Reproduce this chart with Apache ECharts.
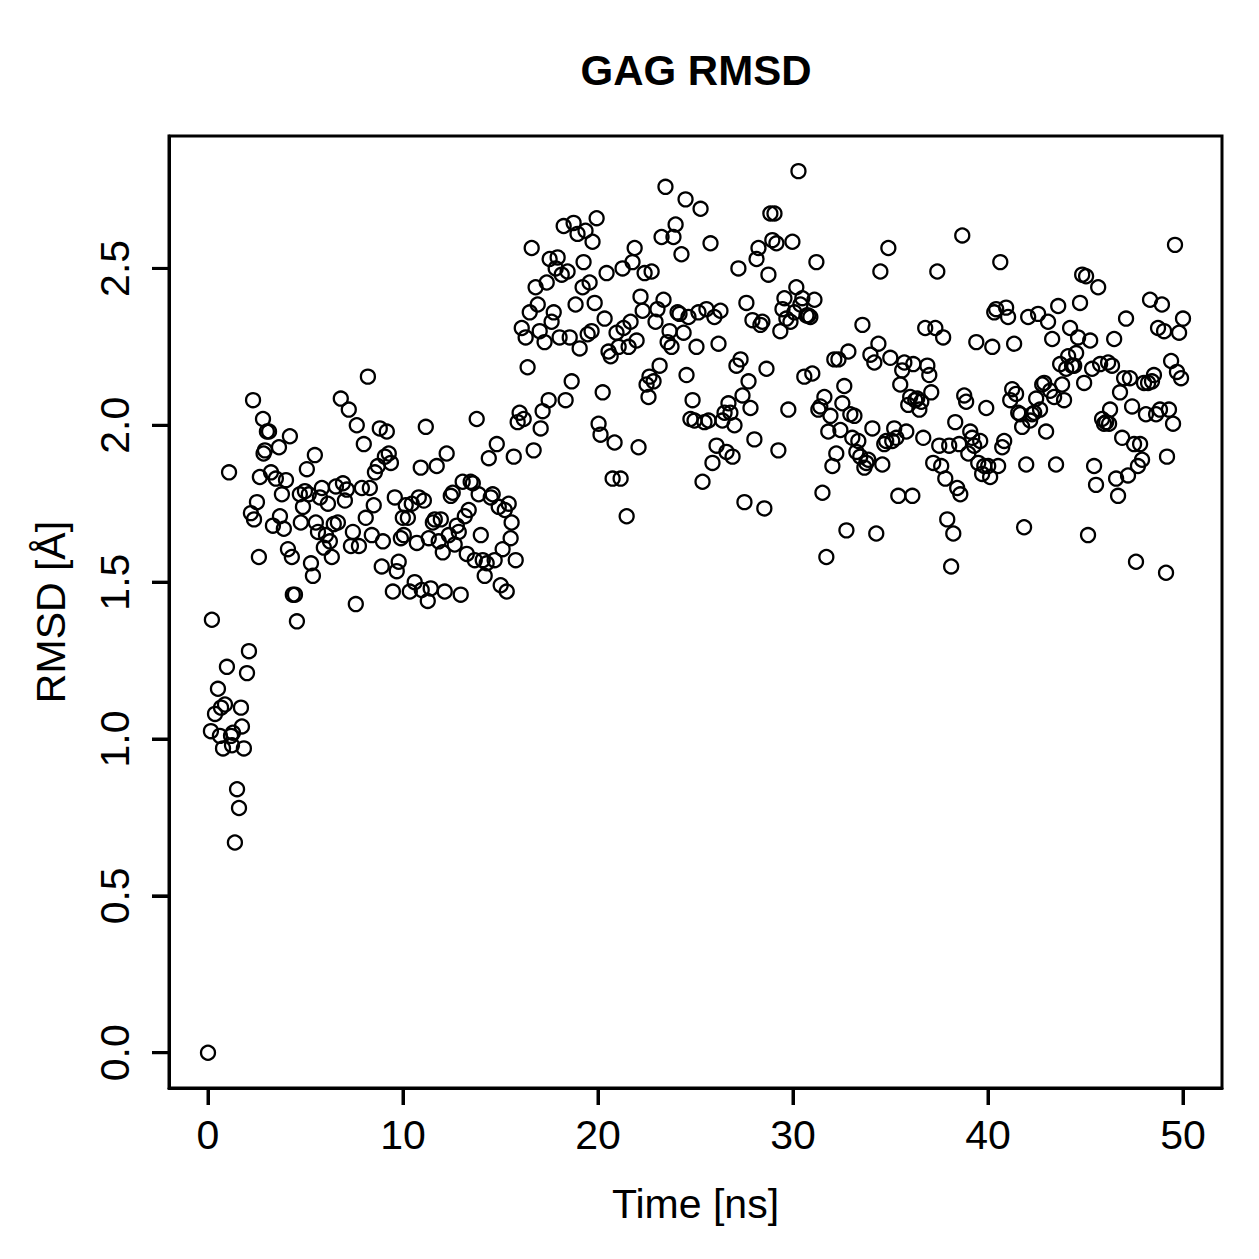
<!DOCTYPE html>
<html>
<head>
<meta charset="utf-8">
<script src="https://cdn.jsdelivr.net/npm/echarts@6/dist/echarts.min.js"></script>
<style>
html, body { margin: 0; padding: 0; background: #fff; }
#chart { width: 1259px; height: 1259px; }
</style>
</head>
<body>
<div id="chart"></div>
<script>
// time of each frame (ns)
var timeNs = [
  0.00, 0.15, 0.20, 0.36, 0.51, 0.61, 0.67, 0.77, 0.87, 0.97, 1.08, 1.18, 1.28, 1.23, 1.49, 1.59, 1.38, 1.69, 1.74, 1.84,
  2.00, 2.10, 2.20, 2.31, 2.36, 2.51, 2.61, 2.82, 2.66, 2.92, 3.02, 3.13, 2.85, 3.23, 3.33, 3.48, 3.64, 3.69, 3.79, 3.89,
  4.00, 4.10, 4.20, 4.30, 4.35, 4.46, 4.56, 4.71, 4.76, 4.87, 4.97, 5.07, 5.17, 5.28, 5.38, 5.48, 5.53, 5.64, 5.74, 5.84,
  5.94, 6.05, 6.15, 6.25, 6.35, 6.45, 6.56, 6.66, 6.81, 6.92, 7.02, 7.12, 7.22, 7.33, 7.43, 7.58, 7.63, 7.74, 7.89, 7.99,
  8.09, 8.20, 8.30, 8.40, 8.50, 8.56, 8.71, 8.81, 8.91, 8.97, 9.07, 9.17, 9.27, 9.38, 9.48, 9.58, 9.68, 9.78, 9.89, 9.99,
  10.04, 10.14, 10.25, 10.35, 10.45, 10.60, 10.71, 10.81, 10.91, 10.96, 11.07, 11.17, 11.27, 11.32, 11.42, 11.53, 11.63, 11.73, 11.83, 11.94,
  12.04, 12.14, 12.24, 12.35, 12.45, 12.55, 12.65, 12.76, 12.86, 12.96, 13.06, 13.17, 13.27, 13.37, 13.47, 13.58, 13.68, 13.78, 13.88, 13.99,
  14.09, 14.19, 14.29, 14.40, 14.50, 14.60, 14.70, 14.81, 14.91, 15.01, 15.11, 15.22, 15.32, 15.42, 15.52, 15.57, 15.68, 15.78, 15.88, 15.98,
  16.09, 16.19, 16.29, 16.39, 16.50, 16.60, 16.70, 16.80, 16.91, 17.01, 17.06, 17.16, 17.26, 17.37, 17.47, 17.52, 17.62, 17.73, 17.83, 17.93,
  18.03, 18.14, 18.24, 18.34, 18.44, 18.55, 18.65, 18.75, 18.85, 18.95, 19.06, 19.21, 19.26, 19.36, 19.47, 19.57, 19.67, 19.72, 19.83, 19.93,
  20.03, 20.13, 20.24, 20.34, 20.44, 20.54, 20.65, 20.75, 20.85, 20.95, 21.06, 21.16, 21.26, 21.31, 21.47, 21.57, 21.67, 21.77, 21.88, 21.98,
  22.08, 22.18, 22.29, 22.39, 22.49, 22.59, 22.64, 22.75, 22.85, 22.95, 23.05, 23.16, 23.26, 23.36, 23.46, 23.57, 23.67, 23.77, 23.87, 23.98,
  24.08, 24.18, 24.28, 24.39, 24.49, 24.54, 24.64, 24.74, 24.85, 24.95, 25.05, 25.15, 25.26, 25.36, 25.46, 25.56, 25.67, 25.77, 25.87, 25.97,
  26.08, 26.18, 26.28, 26.38, 26.49, 26.59, 26.69, 26.79, 26.90, 27.00, 27.10, 27.20, 27.31, 27.41, 27.51, 27.61, 27.72, 27.82, 27.92, 28.02,
  28.13, 28.23, 28.33, 28.43, 28.53, 28.64, 28.74, 28.84, 28.94, 29.05, 29.15, 29.25, 29.35, 29.46, 29.56, 29.66, 29.76, 29.87, 29.97, 30.07,
  30.17, 30.28, 30.38, 30.48, 30.58, 30.69, 30.79, 30.89, 30.99, 31.10, 31.20, 31.30, 31.40, 31.51, 31.61, 31.71, 31.81, 31.92, 32.02, 32.12,
  32.22, 32.33, 32.43, 32.53, 32.63, 32.74, 32.84, 32.94, 33.04, 33.15, 33.25, 33.35, 33.45, 33.56, 33.66, 33.76, 33.86, 33.97, 34.07, 34.17,
  34.27, 34.38, 34.48, 34.58, 34.68, 34.78, 34.89, 34.99, 35.09, 35.19, 35.30, 35.40, 35.50, 35.60, 35.71, 35.81, 35.91, 36.01, 36.12, 36.17,
  36.27, 36.37, 36.48, 36.58, 36.68, 36.78, 36.89, 36.99, 37.09, 37.19, 37.30, 37.40, 37.50, 37.60, 37.70, 37.81, 37.91, 38.01, 38.11, 38.22,
  38.32, 38.42, 38.52, 38.58, 38.68, 38.78, 38.88, 38.99, 39.09, 39.19, 39.29, 39.40, 39.50, 39.60, 39.70, 39.81, 39.91, 40.01, 40.11, 40.22,
  40.32, 40.42, 40.52, 40.63, 40.73, 40.83, 40.93, 41.03, 41.14, 41.24, 41.34, 41.44, 41.55, 41.65, 41.75, 41.85, 41.96, 42.06, 42.16, 42.26,
  42.37, 42.47, 42.57, 42.67, 42.78, 42.88, 42.98, 43.08, 43.19, 43.29, 43.39, 43.49, 43.60, 43.70, 43.80, 43.90, 44.01, 44.11, 44.21, 44.31,
  44.42, 44.52, 44.62, 44.72, 44.83, 44.93, 45.03, 45.13, 45.24, 45.34, 45.44, 45.54, 45.65, 45.75, 45.85, 45.95, 46.06, 46.16, 46.21, 46.26,
  46.36, 46.47, 46.57, 46.67, 46.77, 46.88, 46.98, 47.08, 47.18, 47.28, 47.39, 47.49, 47.59, 47.69, 47.80, 47.90, 48.00, 48.10, 48.21, 48.31,
  48.41, 48.51, 48.62, 48.72, 48.82, 48.92, 49.03, 49.13, 49.18, 49.28, 49.39, 49.49, 49.59, 49.69, 49.80, 49.90, 50.00
];

// RMSD at each frame (angstrom)
var rmsd = [
  0.00, 1.025, 1.38, 1.08, 1.16, 1.01, 1.10, 0.97, 1.11, 1.23, 1.85, 1.01, 1.02, 0.98, 0.84, 0.78, 0.67, 1.10, 1.04, 0.97,
  1.21, 1.28, 1.72, 2.08, 1.70, 1.755, 1.58, 2.02, 1.835, 1.92, 1.98, 1.98, 1.91, 1.85, 1.68, 1.83, 1.93, 1.71, 1.78, 1.67,
  1.825, 1.605, 1.965, 1.58, 1.46, 1.46, 1.375, 1.78, 1.69, 1.74, 1.79, 1.86, 1.78, 1.56, 1.52, 1.905, 1.69, 1.66, 1.77, 1.80,
  1.61, 1.65, 1.75, 1.63, 1.58, 1.685, 1.805, 1.69, 2.085, 1.815, 1.76, 1.795, 2.05, 1.615, 1.66, 1.43, 2.00, 1.615, 1.80, 1.94,
  1.705, 2.155, 1.80, 1.65, 1.745, 1.85, 1.87, 1.99, 1.55, 1.63, 1.90, 1.98, 1.91, 1.88, 1.47, 1.77, 1.535, 1.565, 1.64, 1.705,
  1.65, 1.745, 1.705, 1.47, 1.75, 1.50, 1.625, 1.77, 1.865, 1.475, 1.76, 1.995, 1.44, 1.64, 1.48, 1.69, 1.70, 1.87, 1.63, 1.70,
  1.595, 1.47, 1.91, 1.65, 1.775, 1.785, 1.62, 1.68, 1.66, 1.46, 1.82, 1.71, 1.59, 1.73, 1.82, 1.815, 1.57, 2.02, 1.78, 1.65,
  1.57, 1.52, 1.56, 1.895, 1.77, 1.78, 1.57, 1.94, 1.74, 1.49, 1.605, 1.73, 1.47, 1.75, 1.64, 1.69, 1.90, 1.57, 2.01, 2.04,
  2.31, 2.02, 2.28, 2.185, 2.36, 2.565, 1.92, 2.44, 2.385, 2.30, 1.99, 2.045, 2.265, 2.455, 2.08, 2.53, 2.33, 2.36, 2.50, 2.535,
  2.28, 2.48, 2.635, 2.08, 2.49, 2.28, 2.14, 2.645, 2.385, 2.61, 2.245, 2.44, 2.52, 2.62, 2.29, 2.455, 2.30, 2.585, 2.39, 2.66,
  2.005, 1.97, 2.105, 2.34, 2.485, 2.235, 2.22, 1.83, 1.945, 2.295, 2.25, 1.83, 2.50, 2.31, 1.71, 2.25, 2.33, 2.52, 2.565, 2.27,
  1.93, 2.41, 2.365, 2.485, 2.13, 2.09, 2.155, 2.49, 2.14, 2.33, 2.37, 2.19, 2.60, 2.40, 2.76, 2.265, 2.30, 2.25, 2.60, 2.64,
  2.36, 2.355, 2.545, 2.295, 2.72, 2.16, 2.345, 2.02, 2.08, 2.015, 2.25, 2.36, 2.69, 1.82, 2.01, 2.37, 2.015, 2.58, 1.88, 2.345,
  1.935, 2.26, 2.365, 2.015, 2.04, 1.915, 2.07, 2.04, 1.90, 2.00, 2.19, 2.50, 2.21, 2.095, 1.755, 2.39, 2.14, 2.055, 2.335, 1.955,
  2.53, 2.565, 2.32, 2.33, 1.735, 2.18, 2.48, 2.675, 2.59, 2.675, 2.58, 1.92, 2.30, 2.37, 2.405, 2.34, 2.05, 2.33, 2.585, 2.36,
  2.44, 2.81, 2.385, 2.405, 2.155, 2.35, 2.35, 2.345, 2.165, 2.40, 2.52, 2.05, 2.06, 1.785, 2.09, 1.58, 1.98, 2.03, 1.87, 2.21,
  1.91, 2.21, 1.985, 2.07, 2.125, 1.665, 2.235, 2.035, 1.96, 2.03, 1.915, 1.95, 1.90, 2.32, 1.865, 1.88, 1.89, 2.225, 1.99, 2.20,
  1.655, 2.26, 2.49, 1.875, 1.94, 1.95, 2.565, 2.215, 1.95, 1.99, 1.96, 1.775, 2.13, 2.175, 2.20, 1.98, 2.065, 2.09, 1.775, 2.195,
  2.08, 2.085, 2.05, 2.075, 1.96, 2.31, 2.19, 2.16, 2.105, 1.88, 2.31, 2.49, 1.935, 1.87, 2.28, 1.83, 1.70, 1.935, 1.55, 1.655,
  2.01, 1.80, 1.94, 1.78, 2.605, 2.095, 2.075, 1.91, 1.98, 1.96, 1.935, 2.265, 1.88, 1.95, 1.845, 1.87, 2.055, 1.87, 1.835, 2.25,
  2.36, 2.37, 1.87, 2.52, 1.93, 1.95, 2.375, 2.345, 2.08, 2.115, 2.26, 2.10, 2.04, 2.035, 1.995, 1.675, 1.875, 2.345, 2.015, 2.035,
  2.04, 2.085, 2.355, 2.05, 2.13, 2.135, 1.98, 2.33, 2.11, 2.275, 2.09, 1.875, 2.38, 2.195, 2.13, 2.08, 2.18, 2.22, 2.31, 2.19,
  2.19, 2.23, 2.28, 2.39, 2.48, 2.135, 2.475, 1.65, 2.27, 2.18, 1.87, 1.81, 2.44, 2.195, 2.02, 2.005, 2.01, 2.20, 2.005, 2.05,
  2.19, 2.275, 1.83, 1.775, 2.105, 1.96, 2.15, 2.34, 1.84, 2.15, 2.06, 1.94, 1.565, 1.87, 1.94, 1.89, 2.135, 2.035, 2.135, 2.40,
  2.14, 2.16, 2.035, 2.31, 2.05, 2.385, 2.30, 1.53, 1.90, 2.05, 2.205, 2.005, 2.575, 2.17, 2.295, 2.15, 2.34
];

var xTicks = [0, 10, 20, 30, 40, 50];
var yTicks = [0, 0.5, 1, 1.5, 2, 2.5];

var xMin = -2, xMax = 52;
var yMin = -0.1124, yMax = 2.922;
var font = 'Liberation Sans';
var tickLen = 17;

var chart = echarts.init(document.getElementById('chart'), null, { renderer: 'svg' });

var points = timeNs.map(function (t, i) {
    return [t, rmsd[i]];
});

// outward tick marks, placed through the axes' own scales
function tickItem(isX) {
    return function (params, api) {
        var v = api.value(0);
        var p = isX ? api.coord([v, yMin]) : api.coord([xMin, v]);
        var shape = isX
            ? { x1: p[0], y1: p[1], x2: p[0], y2: p[1] + tickLen }
            : { x1: p[0] - tickLen, y1: p[1], x2: p[0], y2: p[1] };
        return { type: 'line', shape: shape, style: { stroke: '#000', lineWidth: 3 } };
    };
}

var option = {
    animation: false,
    backgroundColor: '#fff',
    title: {
        text: 'GAG RMSD',
        left: 696,
        top: 49,
        padding: 0,
        textAlign: 'center',
        textStyle: { fontFamily: font, fontSize: 42, fontWeight: 'bold', color: '#000' }
    },
    grid: {
        left: 169, right: 37, top: 136, bottom: 171,
        show: true, borderColor: '#000', borderWidth: 3
    },
    xAxis: {
        type: 'value',
        min: xMin, max: xMax,
        name: 'Time [ns]',
        nameLocation: 'middle',
        nameGap: 95,
        nameTextStyle: { fontFamily: font, fontSize: 41, color: '#000' },
        axisLine: { show: true, onZero: false, lineStyle: { color: '#000', width: 3 } },
        axisTick: { show: true, customValues: xTicks, length: tickLen, lineStyle: { color: '#000', width: 3 } },
        axisLabel: { customValues: xTicks, margin: 26, fontFamily: font, fontSize: 41, color: '#000' },
        splitLine: { show: false }
    },
    yAxis: {
        type: 'value',
        min: yMin, max: yMax,
        name: 'RMSD [Å]',
        nameLocation: 'middle',
        nameGap: 98,
        nameRotate: 90,
        nameTextStyle: { fontFamily: font, fontSize: 41, color: '#000' },
        axisLine: { show: true, onZero: false, lineStyle: { color: '#000', width: 3 } },
        axisTick: { show: true, customValues: yTicks, length: tickLen, lineStyle: { color: '#000', width: 3 } },
        axisLabel: {
            customValues: yTicks, rotate: 90, margin: 34,
            fontFamily: font, fontSize: 41, color: '#000',
            formatter: function (v) { return v.toFixed(1); }
        },
        splitLine: { show: false }
    },
    series: [{
        type: 'scatter',
        data: points,
        symbol: 'circle',
        symbolSize: 14,
        progressive: 0,
        large: false,
        itemStyle: { color: 'rgba(0,0,0,0)', borderColor: '#000', borderWidth: 2.3, opacity: 1 },
        emphasis: { disabled: true }
    }, {
        type: 'custom',
        clip: false,
        silent: true,
        z: 10,
        data: xTicks.map(function (v) { return [v, yMin]; }),
        renderItem: tickItem(true)
    }, {
        type: 'custom',
        clip: false,
        silent: true,
        z: 10,
        data: yTicks.map(function (v) { return [v, xMin]; }),
        encode: { x: 1, y: 0 },
        renderItem: tickItem(false)
    }]
};

chart.setOption(option);
</script>
</body>
</html>
